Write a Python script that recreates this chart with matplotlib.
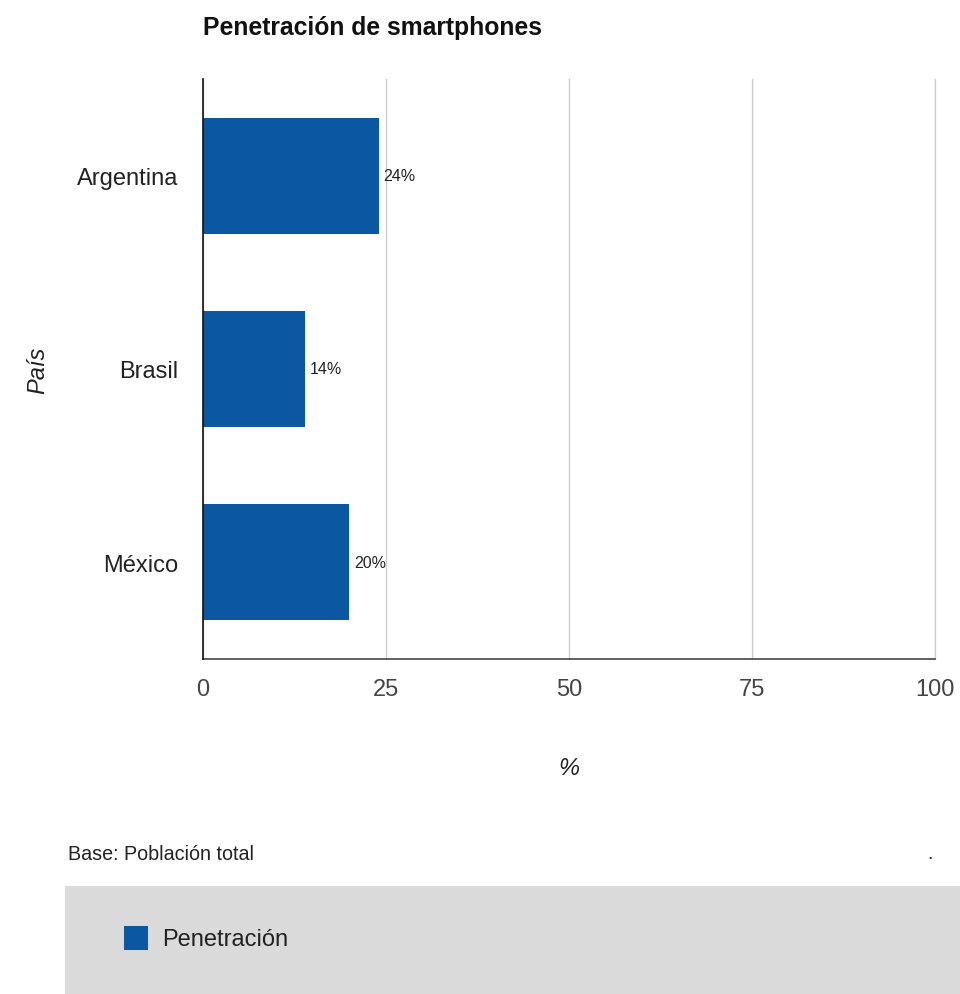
import matplotlib.pyplot as plt
from matplotlib.patches import Rectangle

# datos
paises = ['Argentina', 'Brasil', 'México']
penetracion = [24, 14, 20]  # %
ticks_x = [0, 25, 50, 75, 100]

color_barra = '#0b57a1'

plt.rcParams['font.family'] = ['Liberation Sans', 'DejaVu Sans']

W, H = 960, 995
fig = plt.figure(figsize=(W / 100, H / 100), dpi=100)

# ejes en pixeles -> fraccion de figura
x0, x1 = 203, 935
y0, y1 = 80, 660
ax = fig.add_axes([x0 / W, 1 - y1 / H, (x1 - x0) / W, (y1 - y0) / H])

pos = list(range(len(paises)))
ax.barh(pos, penetracion, height=0.6, color=color_barra, zorder=3)

for p, v in zip(pos, penetracion):
    ax.text(v + 0.6, p, f'{v}%', va='center', ha='left', fontsize=11.5,
            color='#222222', zorder=4)

ax.set_xlim(0, 100)
ax.set_ylim(len(paises) - 0.5, -0.5)
ax.set_xticks(ticks_x)
ax.set_xticklabels([str(t) for t in ticks_x], fontsize=17, color='#444444')
ax.set_yticks(pos)
ax.set_yticklabels(paises, fontsize=17, color='#222222')
ax.tick_params(axis='both', length=0)
ax.tick_params(axis='x', pad=14)
ax.tick_params(axis='y', pad=18)

ax.grid(axis='x', color='#cccccc', linewidth=1, zorder=0)
for gl in ax.get_xgridlines():
    gl.set_clip_on(False)
for s in ['top', 'right']:
    ax.spines[s].set_visible(False)
ax.spines['left'].set_color('#111111')
ax.spines['left'].set_linewidth(1.2)
ax.spines['bottom'].set_color('#444444')
ax.spines['bottom'].set_linewidth(1.2)
ax.spines['left'].set_zorder(5)

ax.set_xlabel('%', fontsize=17, style='italic', color='#222222', labelpad=40)
fig.text(38 / W, 1 - 370 / H, 'País', fontsize=17, style='italic',
         color='#222222', rotation=90, ha='center', va='center')

fig.text(203 / W, 1 - 28 / H, 'Penetración de smartphones', fontsize=17.8,
         fontweight='bold', color='#111111', ha='left', va='center')

fig.text(68 / W, 1 - 855 / H, 'Base: Población total', fontsize=14.2,
         color='#222222', ha='left', va='center')
fig.text(930 / W, 1 - 855 / H, '.', fontsize=14, color='#222222',
         ha='center', va='center')

# caja de leyenda
fig.patches.append(Rectangle((65 / W, 0), (W - 65) / W, (H - 887) / H,
                             transform=fig.transFigure, facecolor='#dadada',
                             edgecolor='none', zorder=0))
fig.patches.append(Rectangle((124 / W, 1 - 951 / H), 24 / W, 24 / H,
                             transform=fig.transFigure, facecolor=color_barra,
                             edgecolor='none', zorder=1))
fig.text(162 / W, 1 - 940 / H, 'Penetración', fontsize=17, color='#222222',
         ha='left', va='center')

fig.savefig('out.png', dpi=100)
